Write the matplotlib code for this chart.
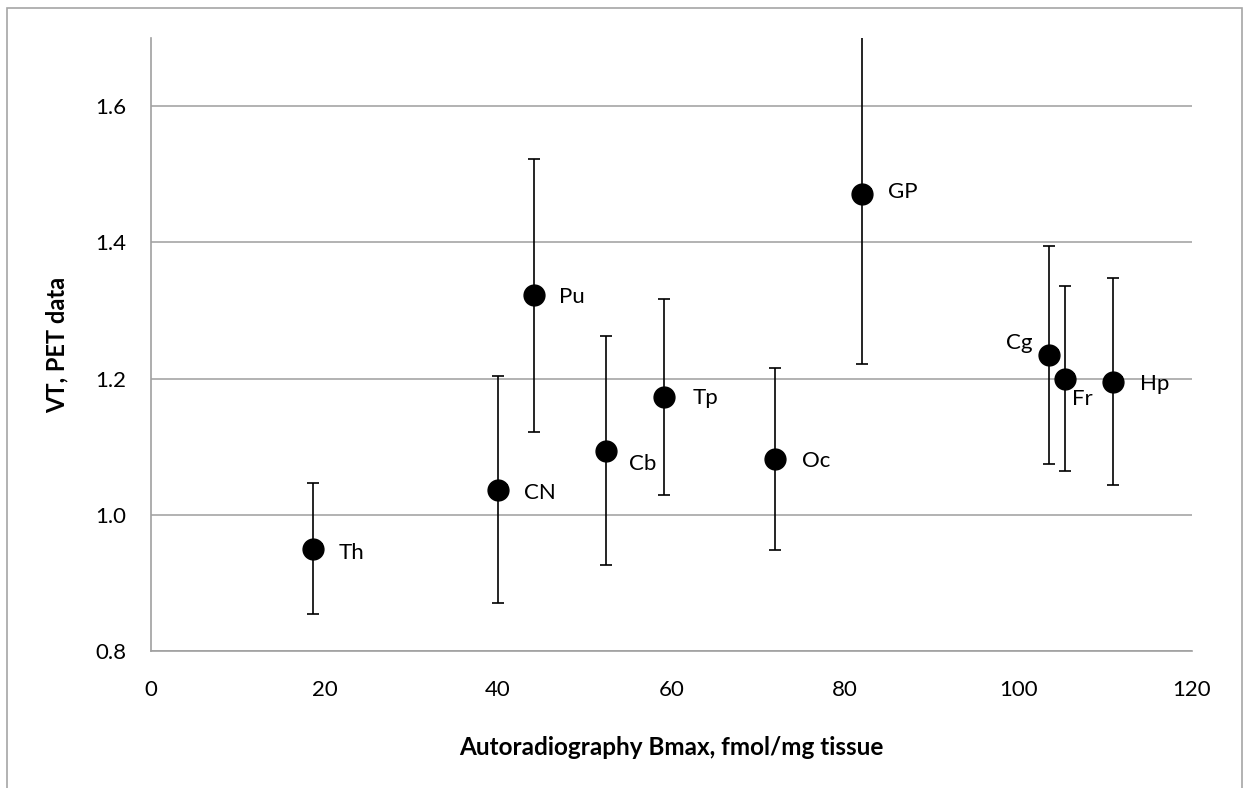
import matplotlib
matplotlib.use('Agg')
import matplotlib.pyplot as plt
from matplotlib.patches import Rectangle

# Data
regions = ['Th', 'CN', 'Pu', 'Cb', 'Tp', 'Oc', 'GP', 'Cg', 'Fr', 'Hp']
bmax = [18.7, 40.0, 44.1, 52.4, 59.1, 71.9, 82.0, 103.5, 105.4, 110.9]
bmax_err = [1.0, 1.0, 1.0, 1.0, 1.0, 1.0, 1.0, 1.0, 1.0, 1.0]
vt = [0.950, 1.037, 1.322, 1.094, 1.173, 1.082, 1.471, 1.234, 1.200, 1.195]
vt_err = [0.096, 0.167, 0.200, 0.168, 0.144, 0.133, 0.250, 0.160, 0.136, 0.152]

# label placement (pixel offsets from the point, horizontal alignment)
label_pos = {
    'Th': (25, -4, 'left'), 'CN': (26, -3, 'left'), 'Pu': (25, -2, 'left'),
    'Cb': (23, -13, 'left'), 'Tp': (29, -1, 'left'), 'Oc': (27, -2, 'left'),
    'GP': (26, 2, 'left'), 'Cg': (-16, 12, 'right'), 'Fr': (7, -20, 'left'),
    'Hp': (27, -2, 'left'),
}

plt.rcParams['font.family'] = ['Lato', 'DejaVu Sans']

fig = plt.figure(figsize=(12.49, 7.88), dpi=100)
ax = fig.add_axes([151/1249, 1 - 651/788, 1041/1249, 613/788])

# outer chart border
fig.patches.append(Rectangle((7/1249, -0.02), 1235/1249, 1.02 - 8/788,
                             transform=fig.transFigure, fill=False,
                             edgecolor='#a6a6a6', linewidth=1.2))

ax.errorbar(bmax, vt, yerr=vt_err, xerr=[[0]*len(bmax), bmax_err],
            fmt='o', color='black', markersize=15, ecolor='black',
            elinewidth=1.2, capsize=4.5, capthick=1.2, zorder=3)

for name, x, y in zip(regions, bmax, vt):
    dx, dy, ha = label_pos[name]
    ax.annotate(name, (x, y), xytext=(dx, dy), textcoords='offset pixels',
                ha=ha, va='center', fontsize=16)

ax.set_xlim(0, 120)
ax.set_ylim(0.8, 1.7)
ax.set_xticks([0, 20, 40, 60, 80, 100, 120])
ax.set_yticks([0.8, 1.0, 1.2, 1.4, 1.6])
ax.set_yticklabels(['0.8', '1.0', '1.2', '1.4', '1.6'])
ax.tick_params(axis='both', length=0, labelsize=16)
ax.tick_params(axis='x', pad=21)
ax.tick_params(axis='y', pad=18)

ax.yaxis.grid(True, color='#a6a6a6', linewidth=1.2)
ax.set_axisbelow(True)
for s in ['top', 'right']:
    ax.spines[s].set_visible(False)
for s in ['left', 'bottom']:
    ax.spines[s].set_color('#a0a0a0')
    ax.spines[s].set_linewidth(1.2)

ax.set_xlabel('Autoradiography Bmax, fmol/mg tissue', fontsize=17.5, fontweight='bold', va='center')
ax.xaxis.set_label_coords(0.5, -0.157)
ax.set_ylabel('VT, PET data', fontsize=17, fontweight='bold', va='center')
ax.yaxis.set_label_coords(-0.09, 0.5)

fig.savefig('out.png', dpi=100)
